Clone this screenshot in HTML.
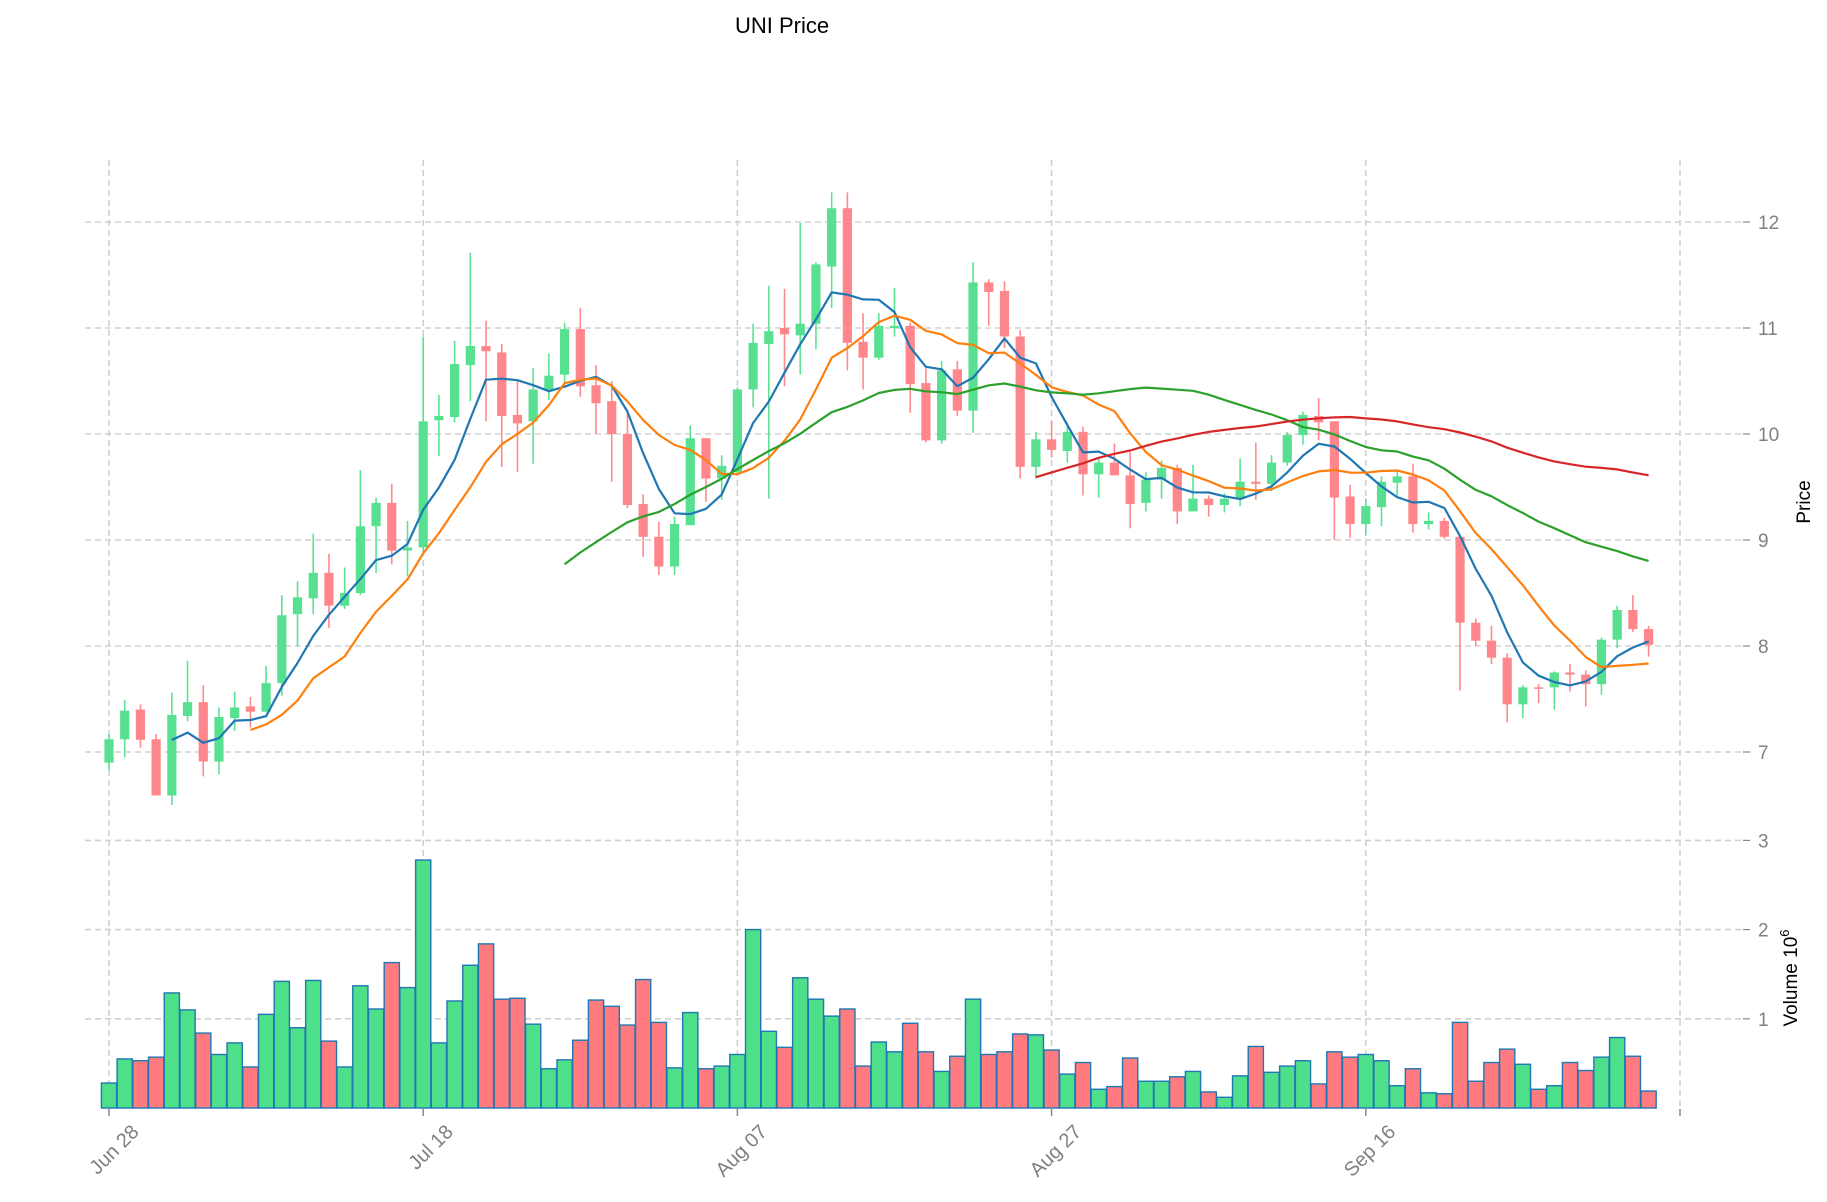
<!DOCTYPE html>
<html><head><meta charset="utf-8"><style>
html,body{margin:0;padding:0;background:#fff;}
svg{display:block;font-family:"Liberation Sans","DejaVu Sans",sans-serif;}
</style></head><body>
<svg id="chart" width="1827" height="1202" viewBox="0 0 1827 1202" xmlns="http://www.w3.org/2000/svg">
<text x="782" y="33" font-size="22" text-anchor="middle" fill="#000">UNI Price</text>
<g id="grid"></g>
<g id="volbars"></g>
<g id="candles"></g>
<g id="mas"></g>
<g id="axes"></g>
<text transform="translate(1810,502) rotate(-90)" font-size="19" text-anchor="middle" fill="#000">Price</text>
<text transform="translate(1797,978) rotate(-90)" font-size="19" text-anchor="middle" fill="#000">Volume  10<tspan dy="-8" font-size="13">6</tspan></text>
</svg>
<script>
const opens=[6.90,7.12,7.40,7.12,6.59,7.34,7.47,6.91,7.32,7.43,7.38,7.65,8.30,8.45,8.69,8.38,8.50,9.13,9.35,8.90,8.93,10.13,10.16,10.65,10.83,10.77,10.18,10.12,10.42,10.56,10.99,10.46,10.31,10.0,9.34,9.03,8.75,9.14,9.96,9.58,9.64,10.42,10.85,11.0,10.93,11.04,11.58,12.13,10.87,10.72,11.0,11.02,10.48,9.94,10.61,10.22,11.43,11.35,10.92,9.69,9.95,9.84,10.02,9.62,9.73,9.61,9.35,9.57,9.68,9.27,9.39,9.33,9.39,9.55,9.53,9.73,9.99,10.17,10.12,9.41,9.15,9.31,9.54,9.60,9.15,9.18,9.03,8.22,8.05,7.89,7.45,7.61,7.61,7.75,7.73,7.64,8.06,8.34,8.16];
const closes=[7.12,7.39,7.115,6.59,7.35,7.47,6.91,7.33,7.42,7.38,7.65,8.29,8.46,8.69,8.38,8.50,9.13,9.35,8.90,8.93,10.12,10.17,10.66,10.83,10.78,10.17,10.10,10.42,10.55,10.99,10.45,10.29,10.0,9.33,9.03,8.75,9.15,9.96,9.58,9.70,10.42,10.86,10.97,10.94,11.04,11.60,12.13,10.86,10.72,11.02,11.02,10.47,9.94,10.60,10.22,11.43,11.34,10.92,9.69,9.95,9.85,10.02,9.62,9.73,9.61,9.34,9.57,9.68,9.27,9.39,9.33,9.39,9.55,9.53,9.73,9.99,10.18,10.11,9.40,9.15,9.32,9.55,9.60,9.15,9.18,9.03,8.22,8.05,7.89,7.45,7.61,7.60,7.75,7.73,7.64,8.06,8.34,8.16,8.01];
const highs=[7.17,7.49,7.45,7.17,7.56,7.86,7.63,7.42,7.57,7.52,7.81,8.48,8.61,9.06,8.87,8.74,9.66,9.40,9.53,9.18,10.92,10.37,10.88,11.71,11.07,10.85,10.51,10.62,10.76,11.05,11.19,10.65,10.5,10.22,9.43,9.17,9.22,10.08,9.96,9.80,10.44,11.04,11.40,11.37,11.99,11.62,12.28,12.28,11.14,11.14,11.38,11.05,10.62,10.69,10.69,11.62,11.46,11.44,10.98,10.02,10.12,10.11,10.07,9.77,9.91,9.83,9.64,9.75,9.71,9.71,9.42,9.44,9.77,9.92,9.80,10.02,10.21,10.34,10.12,9.52,9.39,9.60,9.65,9.72,9.26,9.21,9.03,8.26,8.19,7.93,7.63,7.64,7.76,7.83,7.77,8.08,8.38,8.48,8.19];
const lows=[6.83,6.95,7.04,6.59,6.50,7.29,6.77,6.79,7.20,7.23,7.38,7.53,8.00,8.30,8.17,8.35,8.48,8.69,8.77,8.66,8.89,9.79,10.11,10.31,10.12,9.69,9.64,9.72,10.32,10.47,10.35,10.0,9.55,9.30,8.84,8.67,8.67,9.14,9.36,9.38,9.62,10.25,9.39,10.45,10.56,10.80,11.19,10.60,10.42,10.70,10.92,10.20,9.92,9.91,10.17,10.01,11.02,10.81,9.58,9.58,9.78,9.73,9.42,9.40,9.61,9.11,9.27,9.39,9.15,9.27,9.22,9.26,9.32,9.38,9.46,9.70,9.90,9.94,9.0,9.02,9.05,9.13,9.42,9.07,9.10,9.01,7.58,8.0,7.83,7.28,7.32,7.46,7.40,7.57,7.43,7.54,7.98,8.13,7.90];
const volumes=[0.28,0.55,0.53,0.57,1.29,1.10,0.84,0.60,0.73,0.46,1.05,1.42,0.90,1.43,0.75,0.46,1.37,1.11,1.63,1.35,2.78,0.73,1.20,1.60,1.84,1.22,1.23,0.94,0.44,0.54,0.76,1.21,1.14,0.93,1.44,0.96,0.45,1.07,0.44,0.47,0.60,2.00,0.86,0.68,1.46,1.22,1.03,1.11,0.47,0.74,0.63,0.95,0.63,0.41,0.58,1.22,0.60,0.63,0.83,0.82,0.65,0.38,0.51,0.21,0.24,0.56,0.30,0.30,0.35,0.41,0.18,0.12,0.36,0.69,0.40,0.47,0.53,0.27,0.63,0.57,0.60,0.53,0.25,0.44,0.17,0.16,0.96,0.30,0.51,0.66,0.49,0.21,0.25,0.51,0.42,0.57,0.79,0.58,0.19];
const maPeriods=[5,10,30,60];
const maColors=["#1f77b4","#ff7f0e","#2ca02c","#d62728"];
const priceTicks=[7,8,9,10,11,12];
const volTicks=[1,2,3];
const dateTickIdx=[0,20,40,60,80,100];
const dateTickLabels=["Jun 28","Jul 18","Aug 07","Aug 27","Sep 16",""];

const NS="http://www.w3.org/2000/svg";
const X0=109, DX=15.71, LEFT=85, RIGHT=1743;
const xs=i=>X0+DX*i;
const yp=p=>222+(12-p)*106;
const yv=v=>1108-v*89.2;
function mk(tag,attrs,parent){const e=document.createElementNS(NS,tag);for(const k in attrs)e.setAttribute(k,attrs[k]);parent.appendChild(e);return e;}
const grid=document.getElementById('grid'),axes=document.getElementById('axes');
const dash={stroke:"#d0d0d0","stroke-width":1.6,"stroke-dasharray":"6,4"};
priceTicks.forEach(p=>{
  const l=mk('line',Object.assign({x1:LEFT,x2:RIGHT,y1:yp(p),y2:yp(p)},dash),grid);
  
  
  mk('line',{x1:RIGHT,x2:RIGHT+7,y1:yp(p),y2:yp(p),stroke:"#888","stroke-width":1.2},axes);
  const tx=mk('text',{x:1758,y:yp(p)+7,"font-size":19,fill:"#808080"},axes);
  tx.textContent=p;
  
  
});
volTicks.forEach(v=>{
  const l=mk('line',Object.assign({x1:LEFT,x2:RIGHT,y1:yv(v),y2:yv(v)},dash),grid);
  
  
  mk('line',{x1:RIGHT,x2:RIGHT+7,y1:yv(v),y2:yv(v),stroke:"#888","stroke-width":1.2},axes);
  const tx=mk('text',{x:1758,y:yv(v)+7,"font-size":19,fill:"#808080"},axes);
  tx.textContent=v;
  
  
});
dateTickIdx.forEach((d,k)=>{
  const x=xs(d);
  const l=mk('line',Object.assign({x1:x,x2:x,y1:160,y2:1108},dash),grid);
  
  
  mk('line',{x1:x,x2:x,y1:1109,y2:1116,stroke:"#888","stroke-width":1.5},axes);
  if(dateTickLabels[k]){
    const tx=mk('text',{transform:`translate(${x+31},${1133}) rotate(-45)`,"text-anchor":"end","font-size":20,fill:"#808080"},axes);
    tx.textContent=dateTickLabels[k];
    
    
  }
});
const vb=document.getElementById('volbars'),cg=document.getElementById('candles');
const GREEN="#4ddf8a",RED="#ff7b80";
closes.forEach((c,i)=>{
  const up=c>=opens[i];const col=up?GREEN:RED;const x=xs(i);
  const b=mk('rect',{x:x-7.6,y:yv(volumes[i]),width:15.2,height:yv(0)-yv(volumes[i]),fill:col,stroke:"#1f77b4","stroke-width":1.4},vb);
  
  
  const w=mk('line',{x1:x,x2:x,y1:yp(highs[i]),y2:yp(lows[i]),stroke:up?"#5ae492":"#ff8a8e","stroke-width":1.6},cg);
  
  
  const top=yp(Math.max(c,opens[i])),bot=yp(Math.min(c,opens[i]));
  const r=mk('rect',{x:x-4.6,y:top,width:9.2,height:Math.max(bot-top,1.5),fill:up?"#57e090":"#ff868a"},cg);
  
  
});
const mg=document.getElementById('mas');
maPeriods.forEach((n,k)=>{
  const pts=[];
  for(let i=n-1;i<closes.length;i++){let s=0;for(let j=i-n+1;j<=i;j++)s+=closes[j];pts.push(xs(i).toFixed(1)+","+yp(s/n).toFixed(1));}
  const pl=mk('polyline',{points:pts.join(" "),fill:"none",stroke:maColors[k],"stroke-width":2.2,"stroke-linejoin":"round"},mg);
  
  
});
</script>
</body></html>
